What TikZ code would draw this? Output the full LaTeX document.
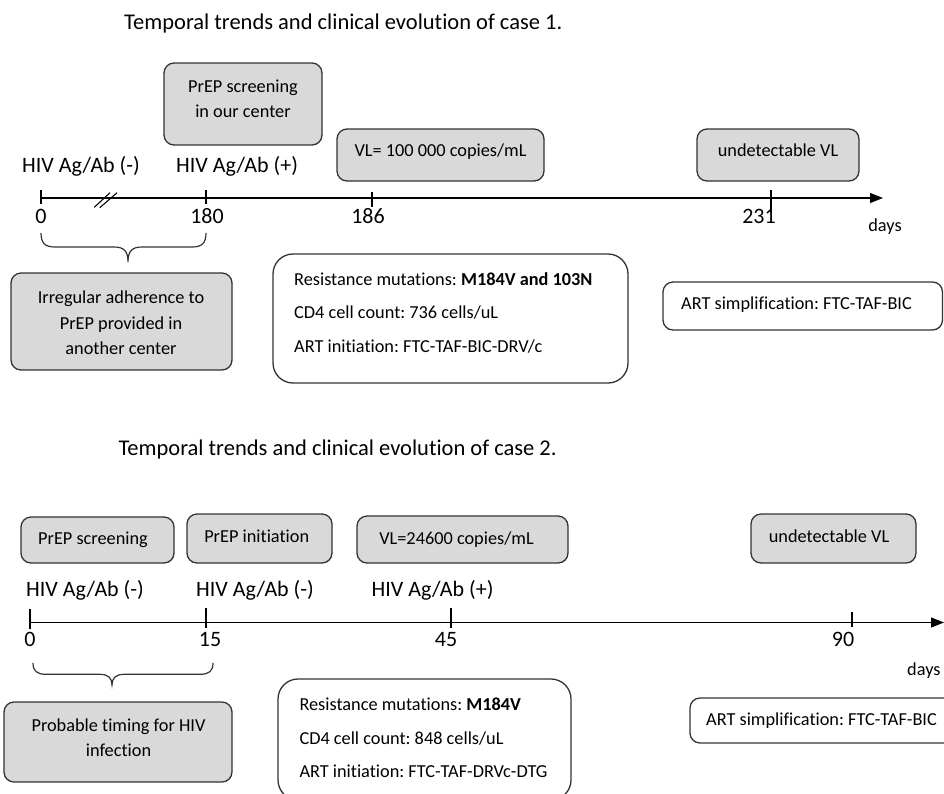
\documentclass[tikz,border=0pt]{standalone}
\usepackage{fontspec}
\setmainfont{Carlito}[Ligatures=NoCommon]
\usetikzlibrary{arrows.meta}
\definecolor{boxgray}{HTML}{D9D9D9}
\definecolor{edgec}{HTML}{333333}
\frenchspacing
\begin{document}
\begin{tikzpicture}[x=1pt,y=-1pt,
  gbox/.style={draw=edgec, fill=boxgray, line width=1.3pt, rounded corners=10pt, inner sep=0pt},
  wbox/.style={draw=edgec, fill=white, line width=1.3pt, rounded corners=20pt, inner sep=0pt},
  sbox/.style={draw=edgec, fill=white, line width=1.3pt, rounded corners=10pt, inner sep=0pt},
  ttl/.style={font=\fontsize{22.5}{26}\selectfont, inner sep=0pt, anchor=base west},
  big/.style={font=\fontsize{22}{26}\selectfont, inner sep=0pt, anchor=base},
  sml/.style={font=\fontsize{18.3}{22}\selectfont, inner sep=0pt, anchor=base},
  lft/.style={anchor=base west},
  axisline/.style={line width=1.3pt, -{Triangle[length=13pt,width=10pt]}},
  tickline/.style={line width=1.1pt},
  bracel/.style={line width=1.2pt, draw=edgec}]
\useasboundingbox (0,0) rectangle (944,793);
\clip (0,0) rectangle (944,793);

%% ================= CASE 1 =================
\node[ttl] (title1) at (124,29.3) {Temporal trends and clinical evolution of case 1.};

\node[gbox, minimum width=158pt, minimum height=82pt] (scr1) at (243,104) {};
\node[sml] (scr1a) at (243,92.7) {PrEP screening};
\node[sml] (scr1b) at (243,117.7) {in our center};

\node[gbox, minimum width=207pt, minimum height=52pt] (vl1) at (440.5,155) {};
\node[sml] (vl1t) at (440.5,156) {VL= 100 000 copies/mL};

\node[gbox, minimum width=162pt, minimum height=52pt] (und1) at (778,155) {};
\node[sml] (und1t) at (778,156) {undetectable VL};

\node[big] (hiv1a) at (81,172.7) {HIV Ag/Ab (-)};
\node[big] (hiv1b) at (237,172.7) {HIV Ag/Ab (+)};

\coordinate (ax1s) at (41,198);
\coordinate (ax1e) at (883,198);
\draw[axisline] (ax1s) -- (ax1e);
\coordinate (k10) at (41,198);
\coordinate (k11) at (206,198);
\coordinate (k12) at (372,198);
\coordinate (k13) at (771,198);
\draw[tickline] (k10) ++(0,-8) -- ++(0,14);
\draw[tickline] (k11) ++(0,-8) -- ++(0,14);
\draw[tickline] (k12) ++(0,-6) -- ++(0,15);
\draw[tickline] (k13) ++(0,-8) -- ++(0,22);
\draw[tickline] (94.3,207.3) -- (110,192.7);
\draw[tickline] (99.8,207.7) -- (117,192.7);

\node[big] (n10) at (41,223.3) {0};
\node[big] (n11) at (207,223.3) {180};
\node[big] (n12) at (368,223.3) {186};
\node[big] (n13) at (759,223.3) {231};
\node[sml] (days1) at (885,231.5) {days};

\draw[bracel] (41,233) .. controls (41,243) and (45,247) .. (55,247) -- (114,247)
  .. controls (124,247) and (128,251) .. (128,262)
  .. controls (128,251) and (132,247) .. (142,247) -- (192,247)
  .. controls (202,247) and (206,243) .. (206,233);

\node[gbox, minimum width=221pt, minimum height=97pt] (irr) at (121.5,321.5) {};
\node[sml] (irra) at (121,303.3) {Irregular adherence to};
\node[sml] (irrb) at (121,329.3) {PrEP provided in};
\node[sml] (irrc) at (121,354.5) {another center};

\node[wbox, minimum width=355pt, minimum height=129pt] (res1) at (450.5,318.5) {};
\node[sml, lft] (res1a) at (294,285) {Resistance mutations: \textbf{M184V and 103N}};
\node[sml, lft] (res1b) at (294,318.7) {CD4 cell count: 736 cells/uL};
\node[sml, lft] (res1c) at (294,352) {ART initiation: FTC-TAF-BIC-DRV/c};

\node[sbox, minimum width=279.5pt, minimum height=48pt] (art1) at (802.75,306) {};
\node[sml, lft] (art1t) at (681,309.3) {ART simplification: FTC-TAF-BIC};

%% ================= CASE 2 =================
\node[ttl] (title2) at (118.3,455) {Temporal trends and clinical evolution of case 2.};

\node[gbox, minimum width=153pt, minimum height=46pt] (scr2) at (97.5,540) {};
\node[sml] (scr2t) at (93,544.3) {PrEP screening};

\node[gbox, minimum width=145pt, minimum height=49pt] (ini2) at (259.5,538.5) {};
\node[sml] (ini2t) at (256.7,542) {PrEP initiation};

\node[gbox, minimum width=211pt, minimum height=47pt] (vl2) at (462.5,539.5) {};
\node[sml] (vl2t) at (456.5,544.3) {VL=24600 copies/mL};

\node[gbox, minimum width=165pt, minimum height=49pt] (und2) at (833.5,538.5) {};
\node[sml] (und2t) at (829,542.3) {undetectable VL};

\node[big] (hiv2a) at (85,596.7) {HIV Ag/Ab (-)};
\node[big] (hiv2b) at (255,596.7) {HIV Ag/Ab (-)};
\node[big] (hiv2c) at (432.5,596.7) {HIV Ag/Ab (+)};

\coordinate (ax2s) at (30,622.5);
\coordinate (ax2e) at (944,622.5);
\draw[axisline] (ax2s) -- (ax2e);
\coordinate (k20) at (30,622.5);
\coordinate (k21) at (206,622.5);
\coordinate (k22) at (451,622.5);
\coordinate (k23) at (852,622.5);
\draw[tickline] (k20) ++(0,-14) -- ++(0,20);
\draw[tickline] (k21) ++(0,-15) -- ++(0,20);
\draw[tickline] (k22) ++(0,-15) -- ++(0,20);
\draw[tickline] (k23) ++(0,-11) -- ++(0,15);

\node[big] (n20) at (30,646.7) {0};
\node[big] (n21) at (210,646.7) {15};
\node[big] (n22) at (446,646.7) {45};
\node[big] (n23) at (843,646.7) {90};
\node[sml, lft] (days2) at (907,675.5) {days};

\draw[bracel] (33,663) .. controls (33,671) and (37,674.3) .. (46,674.3) -- (100,674.3)
  .. controls (108,674.3) and (112,678) .. (112,685)
  .. controls (112,678) and (116,674.3) .. (124,674.3) -- (200,674.3)
  .. controls (209,674.3) and (213,671) .. (213,663);

\node[gbox, minimum width=228pt, minimum height=80pt] (prob) at (118,742) {};
\node[sml] (proba) at (118.5,731.7) {Probable timing for HIV};
\node[sml] (probb) at (118.5,756.7) {infection};

\node[wbox, minimum width=293pt, minimum height=121pt] (res2) at (424.5,739.5) {};
\node[sml, lft] (res2a) at (299.3,710.7) {Resistance mutations: \textbf{M184V}};
\node[sml, lft] (res2b) at (299.3,744) {CD4 cell count: 848 cells/uL};
\node[sml, lft] (res2c) at (299.3,777.7) {ART initiation: FTC-TAF-DRVc-DTG};

\node[sbox, minimum width=280pt, minimum height=45pt] (art2) at (830,720.5) {};
\node[sml, lft] (art2t) at (706,725.7) {ART simplification: FTC-TAF-BIC};
\end{tikzpicture}
\end{document}
